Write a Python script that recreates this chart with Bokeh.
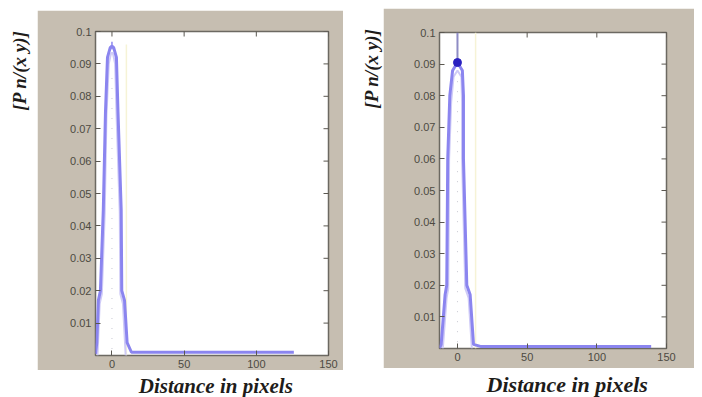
from math import pi
from bokeh.plotting import figure
from bokeh.layouts import row, column
from bokeh.models import Range1d, FixedTicker, Spacer
from bokeh.core.properties import value
from bokeh.embed import file_html
from bokeh.resources import INLINE

# ---------------- data ----------------
x_ticks = [0, 50, 100, 150]
x_tick_labels = ["0", "50", "100", "150"]
y_ticks = [0.01, 0.02, 0.03, 0.04, 0.05, 0.06, 0.07, 0.08, 0.09, 0.1]
y_tick_labels = ["0.01", "0.02", "0.03", "0.04", "0.05", "0.06", "0.07", "0.08", "0.09", "0.1"]
x_label = "Distance in pixels"
y_label = "[P n/(x y)]"

# left panel
left_outer_x = [-11.4, -10.5, -9.4, -8.0, -6.0, -4.5, -3.1, -1.2, 0, 1.2, 3.1, 4.2, 6.4, 6.8, 8.7, 10.5, 13.5, 20, 126]
left_outer_y = [0.0005, 0.004, 0.017, 0.020, 0.045, 0.075, 0.092, 0.095, 0.0955, 0.095, 0.092, 0.075, 0.045, 0.020, 0.017, 0.004, 0.001, 0.001, 0.001]
left_inner_x = [-10.0, -8.5, -7.0, -5.0, -3.8, -2.2, -0.8, 0, 0.8, 2.2, 3.2, 5.4, 5.8, 7.6, 9.5]
left_inner_y = [0.0, 0.016, 0.019, 0.044, 0.074, 0.090, 0.093, 0.0935, 0.093, 0.090, 0.074, 0.044, 0.019, 0.016, 0.0]
left_tip_x = [0, 0]
left_tip_y = [0.0945, 0.0968]
left_center_x = [0, 0]
left_center_y = [0.002, 0.088]
left_faint_x = [10, 10]
left_faint_y = [0.0, 0.096]

# right panel
right_outer_x = [-12.9, -11.7, -8.9, -7.7, -7.0, -5.5, -3.5, 0, 3.5, 4.3, 4.3, 6.7, 9.1, 11.5, 17, 139]
right_outer_y = [0.0, 0.0013, 0.017, 0.020, 0.060, 0.080, 0.088, 0.0905, 0.088, 0.080, 0.060, 0.020, 0.017, 0.0013, 0.0006, 0.0006]
right_inner_x = [-10.5, -7.8, -6.6, -6.0, -4.5, -2.8, 0, 2.8, 3.3, 3.3, 5.6, 8.0, 10.3]
right_inner_y = [0.0, 0.016, 0.019, 0.060, 0.078, 0.086, 0.088, 0.086, 0.078, 0.060, 0.019, 0.016, 0.0]
right_peak_x = [0]
right_peak_y = [0.0905]
right_tip_x = [0, 0]
right_tip_y = [0.0905, 0.1]
right_center_x = [0, 0]
right_center_y = [0.002, 0.085]
right_faint_x = [13, 13]
right_faint_y = [0.0, 0.1]

# ---------------- style ----------------
GRAY = "#c6beb1"
OUTER = "#8b85ef"
INNER = "#cfcbf7"
TICK_TXT = "#4d4a42"
TICK_LINE = "#5a5750"
LAB_FONT = value("Liberation Serif")


def style_axis(ax, ticks, labels):
    ax.ticker = FixedTicker(ticks=ticks)
    ax.major_label_overrides = dict(zip(ticks, labels))
    ax.major_tick_in = 5
    ax.major_tick_out = 0
    ax.minor_tick_line_color = None
    ax.major_tick_line_color = TICK_LINE
    ax.axis_line_color = None
    ax.major_label_text_font = "Liberation Sans"
    ax.major_label_text_color = TICK_TXT
    ax.major_label_text_font_size = "11px"
    ax.major_label_standoff = 4


def main_fig(w, h, xr, bl, br, bt, bb):
    x0, x1 = xr
    p = figure(width=w, height=h, x_range=Range1d(x0, x1), y_range=Range1d(0, 0.1),
               output_backend="svg", toolbar_location=None,
               min_border_left=bl, min_border_right=br, min_border_top=bt, min_border_bottom=bb)
    p.border_fill_color = GRAY
    p.background_fill_color = "white"
    p.outline_line_color = "#6c6962"
    p.outline_line_width = 1.5
    p.xgrid.visible = False
    p.ygrid.visible = False
    style_axis(p.xaxis[0], x_ticks, x_tick_labels)
    style_axis(p.yaxis[0], y_ticks, y_tick_labels)
    # inward ticks on the top and right edges of the box
    p.scatter(x_ticks, [0.1] * len(x_ticks), marker="dash", angle=pi / 2, size=10,
              line_color=TICK_LINE, line_width=1)
    p.scatter([x1] * len(y_ticks), y_ticks, marker="dash", size=10,
              line_color=TICK_LINE, line_width=1)
    return p


def text_fig(w, h):
    f = figure(width=w, height=h, x_range=Range1d(0, w), y_range=Range1d(0, h),
               output_backend="svg", toolbar_location=None,
               x_axis_location=None, y_axis_location=None, min_border=0)
    f.outline_line_color = None
    f.border_fill_color = "white"
    f.background_fill_color = "white"
    f.xgrid.visible = False
    f.ygrid.visible = False
    return f


# ---------------- left panel ----------------
pL = main_fig(306, 360, (-11.4, 150), 58, 15, 21, 13)
pL.line(left_faint_x, left_faint_y, line_color="#f6f3d6", line_width=1.5)
pL.line(left_center_x, left_center_y, line_color="#c8c8d2", line_width=1, line_dash="1 9")
pL.line(left_inner_x, left_inner_y, line_color=INNER, line_width=2)
pL.line(left_outer_x, left_outer_y, line_color=OUTER, line_width=3)
pL.line(left_tip_x, left_tip_y, line_color=OUTER, line_width=1.5)

yL = text_fig(37, 397)
yL.text(x=[19], y=[397 - 30], text=[y_label], angle=pi / 2, text_align="right", text_baseline="middle",
        text_font=LAB_FONT, text_font_style="bold italic", text_font_size="19px", text_color="#1e1c1a")

xL = text_fig(306, 27)
xL.text(x=[158], y=[24], text=[x_label], text_align="center", text_baseline="top",
        text_font=LAB_FONT, text_font_style="bold italic", text_font_size="21px", text_color="#1e1c1a")

# ---------------- right panel ----------------
pR = main_fig(311, 360, (-12.9, 150), 56, 28, 24, 20)
pR.line(right_faint_x, right_faint_y, line_color="#f6f3d6", line_width=1.5)
pR.line(right_center_x, right_center_y, line_color="#c8c8d2", line_width=1, line_dash="1 9")
pR.line(right_inner_x, right_inner_y, line_color=INNER, line_width=2)
pR.line(right_outer_x, right_outer_y, line_color=OUTER, line_width=3)
pR.line(right_tip_x, right_tip_y, line_color="#8e8cc4", line_width=2)
pR.scatter(right_peak_x, right_peak_y, marker="circle", size=8, color="#2a20c0")

yR = text_fig(40, 397)
yR.text(x=[28], y=[397 - 28], text=[y_label], angle=pi / 2, text_align="right", text_baseline="middle",
        text_font=LAB_FONT, text_font_style="bold italic", text_font_size="19px", text_color="#1e1c1a")

xR = text_fig(311, 29)
xR.text(x=[175], y=[26], text=[x_label], text_align="center", text_baseline="top",
        text_font=LAB_FONT, text_font_style="bold italic", text_font_size="22px", text_color="#1e1c1a")

layout = row(
    yL,
    column(Spacer(width=306, height=10), pL, xL, spacing=0),
    yR,
    column(Spacer(width=311, height=8), pR, xR, spacing=0),
    Spacer(width=8, height=397),
    spacing=0,
)

open("out.html", "w").write(file_html(layout, INLINE))
